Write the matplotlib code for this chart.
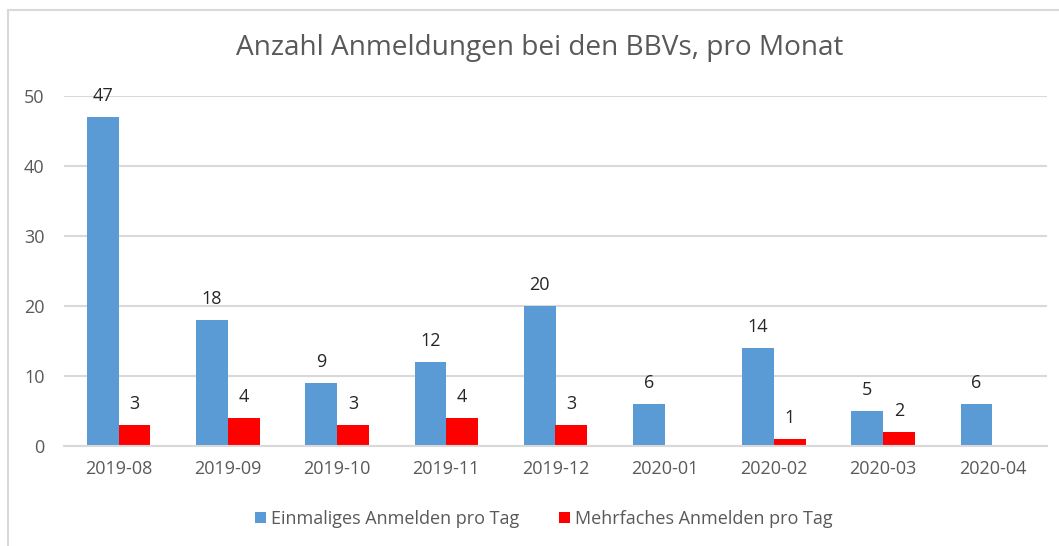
import matplotlib
matplotlib.use("Agg")
import matplotlib.pyplot as plt
from matplotlib.patches import Rectangle
import numpy as np

plt.rcParams['font.family'] = ['Open Sans', 'DejaVu Sans']

categories = ["2019-08", "2019-09", "2019-10", "2019-11", "2019-12",
              "2020-01", "2020-02", "2020-03", "2020-04"]
einmalig = [47, 18, 9, 12, 20, 6, 14, 5, 6]
mehrfach = [3, 4, 3, 4, 3, None, 1, 2, None]
series_names = ["Einmaliges Anmelden pro Tag", "Mehrfaches Anmelden pro Tag"]
title = "Anzahl Anmeldungen bei den BBVs, pro Monat"

W, H = 1059, 546
fig = plt.figure(figsize=(W / 100, H / 100), dpi=100)
fig.patch.set_facecolor("white")

# outer chart frame (partially visible)
fig.patches.append(Rectangle((8 / W, -0.05), 1.2, 1 - 10 / H + 0.05,
                             transform=fig.transFigure, fill=False,
                             edgecolor="#D9D9D9", linewidth=1.5))

ax = fig.add_axes([64 / W, 1 - 446 / H, (1047 - 64) / W, (446 - 96) / H])
x = np.arange(len(categories))
bw = 0.29
blue = "#5B9BD5"
red = "#FF0000"

e_vals = np.array(einmalig, dtype=float)
m_vals = np.array([np.nan if v is None else v for v in mehrfach], dtype=float)

b1 = ax.bar(x - bw / 2, e_vals, bw, color=blue, label=series_names[0], zorder=3)
b2 = ax.bar(x + bw / 2, np.nan_to_num(m_vals), bw, color=red, label=series_names[1], zorder=3)

for xi, v in zip(x, e_vals):
    ax.annotate(f"{int(v)}", (xi - bw / 2, v), xytext=(0, 12), textcoords="offset pixels",
                ha="center", va="bottom", fontsize=13, color="#262626")
for xi, v in zip(x, m_vals):
    if not np.isnan(v):
        ax.annotate(f"{int(v)}", (xi + bw / 2, v), xytext=(0, 12), textcoords="offset pixels",
                    ha="center", va="bottom", fontsize=13, color="#262626")

ax.set_xlim(-0.5, len(categories) - 0.5)
ax.set_ylim(0, 50)
ax.set_yticks(range(0, 51, 10))
ax.set_xticks(x)
ax.set_xticklabels(categories)
ax.tick_params(axis="both", length=0, labelsize=13, labelcolor="#595959")
ax.tick_params(axis="x", pad=10)
ax.tick_params(axis="y", pad=14)
ax.yaxis.grid(True, color="#D9D9D9", linewidth=1.5, zorder=0)
ax.set_axisbelow(True)
for s in ["top", "right", "left"]:
    ax.spines[s].set_visible(False)
ax.spines["bottom"].set_color("#D9D9D9")
ax.spines["bottom"].set_linewidth(1.5)
ax.spines["bottom"].set_zorder(4)

fig.text(540 / W, 1 - 48 / H, title, ha="center", va="center",
         fontsize=20.2, color="#595959")

fig.legend(handles=[b1, b2], labels=series_names, loc="center",
           bbox_to_anchor=(544 / W, 1 - 519 / H), ncol=2, frameon=False,
           fontsize=13, labelcolor="#595959", handlelength=0.6, handleheight=0.6,
           handletextpad=0.3, columnspacing=2.2)

fig.savefig("out.png", dpi=100, facecolor="white")
